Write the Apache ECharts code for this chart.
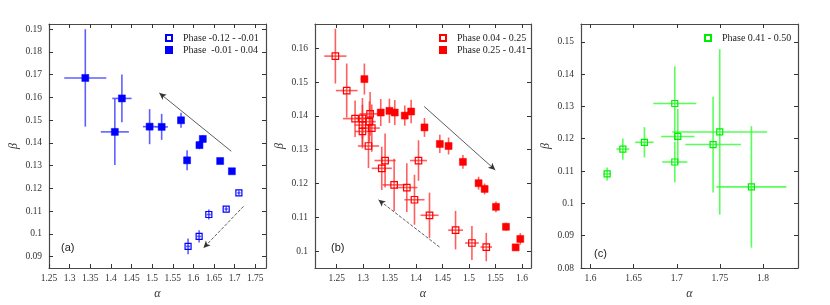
<!DOCTYPE html>
<html>
<head>
<meta charset="utf-8">
<script src="https://cdn.jsdelivr.net/npm/echarts/dist/echarts.min.js"></script>
<style>
html,body{margin:0;padding:0;background:#fff;}
#chart{width:830px;height:305px;}
</style>
</head>
<body>
<div id="chart"></div>
<script>
// ---------- DATA ----------
// Panel (a)
const aOpenAlpha  = [1.5871, 1.6139, 1.6374, 1.6795, 1.7103];
const aOpenBeta   = [0.0945, 0.0989, 0.1085, 0.1109, 0.1180];
const aOpenAErr   = [0.005, 0.005, 0.005, 0.004, 0.004];
const aOpenBErr   = [0.0035, 0.0027, 0.0022, 0.0010, 0.0010];
const aFillAlpha  = [1.338, 1.4096, 1.4267, 1.4939, 1.5231, 1.570, 1.5847, 1.6147, 1.6228, 1.6649, 1.6933];
const aFillBeta   = [0.1685, 0.1448, 0.1595, 0.1471, 0.1470, 0.1499, 0.1323, 0.1390, 0.1417, 0.1320, 0.1275];
const aFillAErr   = [0.051, 0.034, 0.0234, 0.0163, 0.015, 0.004, 0.005, 0.004, 0.004, 0.003, 0.003];
const aFillBErr   = [0.0214, 0.0145, 0.0105, 0.0077, 0.0057, 0.0033, 0.0044, 0.0018, 0.0016, 0.0010, 0.0010];
const aNames      = ['Phase -0.12 - -0.01', 'Phase  -0.01 - 0.04'];
const aArrowSolid = [[1.6917, 0.1363], [1.5174, 0.1619]];
const aArrowDash  = [[1.7216, 0.1121], [1.6244, 0.0938]];

// Panel (b)
const bOpenAlpha = [1.2475, 1.2689, 1.2847, 1.2986, 1.3131, 1.2986, 1.2986, 1.3118, 1.3163, 1.3100, 1.3414, 1.3351, 1.3585, 1.3824, 1.3969, 1.4045, 1.4253, 1.4745, 1.5054, 1.5325];
const bOpenBeta  = [0.1577, 0.1475, 0.1392, 0.1393, 0.1406, 0.1373, 0.1354, 0.1383, 0.1364, 0.1311, 0.1268, 0.1245, 0.1196, 0.1188, 0.1152, 0.1268, 0.1106, 0.1062, 0.1024, 0.1012];
const bOpenAErr  = [0.021, 0.0205, 0.0227, 0.015, 0.020, 0.015, 0.014, 0.012, 0.015, 0.020, 0.020, 0.019, 0.022, 0.020, 0.019, 0.016, 0.017, 0.014, 0.013, 0.011];
const bOpenBErr  = [0.0081, 0.0080, 0.0054, 0.0060, 0.0065, 0.0060, 0.0050, 0.0060, 0.0070, 0.0065, 0.0080, 0.0064, 0.0077, 0.0072, 0.0074, 0.0060, 0.0067, 0.0057, 0.0050, 0.0042];
const bFillAlpha = [1.3023, 1.3332, 1.3496, 1.3597, 1.3786, 1.3906, 1.4158, 1.4448, 1.4613, 1.4884, 1.518, 1.5294, 1.5508, 1.5697, 1.588, 1.5968];
const bFillBeta  = [0.1509, 0.1410, 0.1415, 0.1410, 0.1401, 0.1413, 0.1366, 0.1317, 0.1311, 0.1264, 0.1201, 0.1184, 0.1131, 0.1072, 0.1011, 0.1036];
const bFillAErr  = [0.007, 0.006, 0.006, 0.006, 0.006, 0.006, 0.005, 0.005, 0.005, 0.004, 0.004, 0.004, 0.004, 0.004, 0.004, 0.004];
const bFillBErr  = [0.0046, 0.0040, 0.0036, 0.0037, 0.0030, 0.0035, 0.0028, 0.0027, 0.0025, 0.0020, 0.0019, 0.0016, 0.0016, 0.0012, 0.0008, 0.0017];
const bNames      = ['Phase 0.04 - 0.25', 'Phase 0.25 - 0.41'];
const bArrowSolid = [[1.4152, 0.1428], [1.5495, 0.1240]];
const bArrowDash  = [[1.4442, 0.1012], [1.3288, 0.1152]];

// Panel (c)
const cAlpha = [1.6193, 1.6375, 1.6625, 1.6977, 1.7012, 1.6977, 1.7421, 1.7498, 1.7865];
const cBeta  = [0.1091, 0.1168, 0.1189, 0.1309, 0.1207, 0.1128, 0.1182, 0.1221, 0.1051];
const cAErr  = [0.0043, 0.0075, 0.0107, 0.025, 0.0193, 0.0145, 0.0323, 0.055, 0.0405];
const cBErr  = [0.0020, 0.0033, 0.0047, 0.0115, 0.0085, 0.0063, 0.0148, 0.0256, 0.0188];
const cNames = ['Phase 0.41 - 0.50'];

// Tick labels
const aXTicks = [1.25, 1.3, 1.35, 1.4, 1.45, 1.5, 1.55, 1.6, 1.65, 1.7, 1.75];
const aYTicks = [0.09, 0.1, 0.11, 0.12, 0.13, 0.14, 0.15, 0.16, 0.17, 0.18, 0.19];
const bXTicks = [1.25, 1.3, 1.35, 1.4, 1.45, 1.5, 1.55, 1.6];
const bYTicks = [0.1, 0.11, 0.12, 0.13, 0.14, 0.15, 0.16];
const cXTicks = [1.6, 1.65, 1.7, 1.75, 1.8];
const cYTicks = [0.08, 0.09, 0.1, 0.11, 0.12, 0.13, 0.14, 0.15];

// ---------- BUILD ----------
const SERIF = "'Liberation Serif','Times New Roman',serif";
const SANS = "'Liberation Sans',Arial,sans-serif";
const fmt = v => String(Math.round(v * 100) / 100);
const zip = (a, b, c, d) => a.map((v, i) => [v, b[i], c[i], d[i]]);

const grids = [
  {left: 49, top: 24, width: 217, height: 244},
  {left: 315, top: 24, width: 216, height: 244},
  {left: 581, top: 24, width: 217, height: 244}
];
const ranges = [
  {x: [1.25, 1.776], y: [0.085, 0.1922], xt: aXTicks, yt: aYTicks},
  {x: [1.209, 1.617], y: [0.095, 0.1672], xt: bXTicks, yt: bYTicks},
  {x: [1.589, 1.8405], y: [0.08, 0.1555], xt: cXTicks, yt: cYTicks}
];

const xAxis = [], yAxis = [];
ranges.forEach((r, g) => {
  const line = {show: true, onZero: false, lineStyle: {color: '#4a4a4a', width: 1.2}};
  const tickX = {show: true, inside: true, length: 4, customValues: r.xt, lineStyle: {color: '#333', width: 1}};
  const tickY = {show: true, inside: true, length: 4, customValues: r.yt, lineStyle: {color: '#333', width: 1}};
  xAxis.push({
    type: 'value', gridIndex: g, position: 'bottom', min: r.x[0], max: r.x[1],
    axisLine: line, axisTick: tickX, splitLine: {show: false},
    axisLabel: {show: true, customValues: r.xt, formatter: fmt, margin: 5, fontFamily: SERIF, fontSize: 9.5, color: '#333'},
    name: 'α', nameLocation: 'middle', nameGap: 19,
    nameTextStyle: {fontFamily: SERIF, fontStyle: 'italic', fontSize: 12, color: '#333'}
  });
  xAxis.push({
    type: 'value', gridIndex: g, position: 'top', min: r.x[0], max: r.x[1],
    axisLine: line, axisTick: tickX, splitLine: {show: false}, axisLabel: {show: false}
  });
  yAxis.push({
    type: 'value', gridIndex: g, position: 'left', min: r.y[0], max: r.y[1],
    axisLine: line, axisTick: tickY, splitLine: {show: false},
    axisLabel: {show: true, customValues: r.yt, formatter: fmt, margin: 7, fontFamily: SERIF, fontSize: 9.5, color: '#333'},
    name: 'β', nameLocation: 'middle', nameGap: 29,
    nameTextStyle: {fontFamily: SERIF, fontStyle: 'italic', fontSize: 12, color: '#333'}
  });
  yAxis.push({
    type: 'value', gridIndex: g, position: 'right', min: r.y[0], max: r.y[1],
    axisLine: line, axisTick: tickY, splitLine: {show: false}, axisLabel: {show: false}
  });
});

function errSeries(g, data, color) {
  return {
    type: 'custom', xAxisIndex: g * 2, yAxisIndex: g * 2, data: data, clip: true, silent: true, z: 2,
    encode: {x: 0, y: 1},
    renderItem: function (params, api) {
      const x = api.value(0), y = api.value(1), ex = api.value(2), ey = api.value(3);
      const p1 = api.coord([x - ex, y]), p2 = api.coord([x + ex, y]);
      const p3 = api.coord([x, y - ey]), p4 = api.coord([x, y + ey]);
      const st = {stroke: color, lineWidth: 1.6, opacity: 0.75};
      return {type: 'group', children: [
        {type: 'line', shape: {x1: p1[0], y1: p1[1], x2: p2[0], y2: p2[1]}, style: st},
        {type: 'line', shape: {x1: p3[0], y1: p3[1], x2: p4[0], y2: p4[1]}, style: st}
      ]};
    }
  };
}
function markerSeries(g, name, data, color, filled, size, arrows) {
  const s = {
    type: 'scatter', name: name, xAxisIndex: g * 2, yAxisIndex: g * 2, z: 3,
    data: data.map(d => [d[0], d[1]]), symbol: 'rect', symbolSize: size,
    itemStyle: filled ? {color: color, borderColor: color, borderWidth: 0.5, opacity: 1}
                      : {color: 'rgba(255,255,255,0)', borderColor: color, borderWidth: 1.2, opacity: 1},
    emphasis: {disabled: true}
  };
  if (arrows) {
    s.markLine = {
      silent: true, symbol: ['none', 'arrow'], symbolSize: [5, 7], label: {show: false},
      emphasis: {disabled: true},
      data: arrows.map(a => [
        {coord: a.pts[0], lineStyle: {color: '#333', width: 0.8, type: a.type}},
        {coord: a.pts[1], lineStyle: {color: '#333', width: 0.8, type: a.type}}
      ])
    };
  }
  return s;
}

const aOpen = zip(aOpenAlpha, aOpenBeta, aOpenAErr, aOpenBErr);
const aFill = zip(aFillAlpha, aFillBeta, aFillAErr, aFillBErr);
const bOpen = zip(bOpenAlpha, bOpenBeta, bOpenAErr, bOpenBErr);
const bFill = zip(bFillAlpha, bFillBeta, bFillAErr, bFillBErr);
const cData = zip(cAlpha, cBeta, cAErr, cBErr);

const BLUE = '#0000ff', RED = '#ff0000', GREEN = '#00ee00';
const series = [
  errSeries(0, aOpen, '#2a2aff'), errSeries(0, aFill, '#2a2aff'),
  markerSeries(0, aNames[0], aOpen, BLUE, false, 6, null),
  markerSeries(0, aNames[1], aFill, BLUE, true, 7, [
    {pts: aArrowSolid, type: 'solid'}, {pts: aArrowDash, type: 'dashed'}]),
  errSeries(1, bOpen, '#ff2a2a'), errSeries(1, bFill, '#ff2a2a'),
  markerSeries(1, bNames[0], bOpen, RED, false, 6.5, null),
  markerSeries(1, bNames[1], bFill, RED, true, 7, [
    {pts: bArrowSolid, type: 'solid'}, {pts: bArrowDash, type: 'dashed'}]),
  errSeries(2, cData, '#22ff22'),
  markerSeries(2, cNames[0], cData, GREEN, false, 6, null)
];

function legendAt(names, left) {
  return {
    data: names, orient: 'vertical', left: left, top: 33, padding: 0,
    itemWidth: 6, itemHeight: 6, itemGap: 2,
    icon: 'rect', selectedMode: false,
    textStyle: {fontFamily: SERIF, fontSize: 10, color: '#222', lineHeight: 10, padding: [0, 0, 0, 6]}
  };
}

const option = {
  animation: false,
  backgroundColor: '#fff',
  grid: grids,
  xAxis: xAxis,
  yAxis: yAxis,
  legend: [legendAt(aNames, 165), legendAt(bNames, 439), legendAt(cNames, 704)],
  series: series,
  graphic: [
    {type: 'text', left: 61, top: 242, style: {text: '(a)', font: '11px ' + SANS, fill: '#222'}},
    {type: 'text', left: 331, top: 242, style: {text: '(b)', font: '11px ' + SANS, fill: '#222'}},
    {type: 'text', left: 594, top: 248, style: {text: '(c)', font: '11px ' + SANS, fill: '#222'}}
  ]
};

const chart = echarts.init(document.getElementById('chart'), null, {renderer: 'canvas'});
chart.setOption(option);
</script>
</body>
</html>
